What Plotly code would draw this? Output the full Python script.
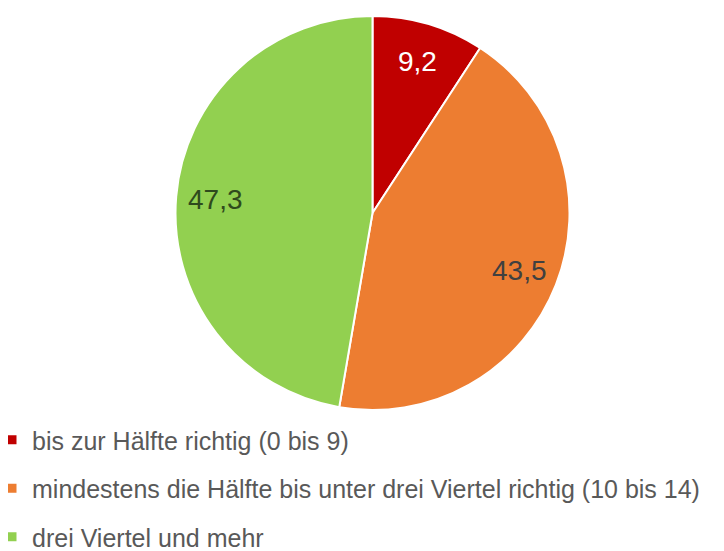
import math
import plotly.graph_objects as go

categories = [
    "bis zur Hälfte richtig (0 bis 9)",
    "mindestens die Hälfte bis unter drei Viertel richtig (10 bis 14)",
    "drei Viertel und mehr",
]
values = [9.2, 43.5, 47.3]
value_labels = ["9,2", "43,5", "47,3"]
colors = ["#C00000", "#ED7D31", "#92D050"]
label_colors = ["#FFFFFF", "#404040", "#2F4A1D"]

# page body has an 8px margin, so the figure is laid out in shifted coordinates
OFF = 8
W, H = 724 - OFF, 551 - OFF
cx, cy, r = 372.5 - OFF, 213 - OFF, 197
label_frac = 0.8

fig = go.Figure()
fig.add_trace(go.Pie(
    labels=categories,
    values=values,
    textinfo="none",
    marker=dict(colors=colors, line=dict(color="white", width=2)),
    sort=False,
    direction="clockwise",
    rotation=0,
    showlegend=False,
    domain=dict(x=[(cx - r) / W, (cx + r) / W], y=[1 - (cy + r) / H, 1 - (cy - r) / H]),
))

# data labels placed at each slice's mid-angle (clockwise from 12 o'clock)
total = sum(values)
cum = 0.0
for v, txt, col in zip(values, value_labels, label_colors):
    mid = (cum + v / 2) / total * 2 * math.pi
    cum += v
    px = cx + label_frac * r * math.sin(mid)
    py = cy - label_frac * r * math.cos(mid)
    fig.add_annotation(
        x=px / W, y=1 - py / H, xref="paper", yref="paper",
        text=txt, showarrow=False, xanchor="center", yanchor="middle",
        font=dict(family="Liberation Sans, Arial", size=28, color=col),
    )

for i, (cat, col) in enumerate(zip(categories, colors)):
    fig.add_trace(go.Scatter(
        x=[None], y=[None], mode="markers", name=cat,
        marker=dict(symbol="square", size=9, color=col),
        legendgroup=f"g{i}", showlegend=True,
    ))

fig.update_layout(
    width=W, height=H,
    margin=dict(l=0, r=0, t=0, b=0, autoexpand=False),
    paper_bgcolor="white", plot_bgcolor="white",
    xaxis=dict(visible=False), yaxis=dict(visible=False),
    legend=dict(
        x=-16 / W, y=1 - 409 / H, xanchor="left", yanchor="top",
        font=dict(family="Liberation Sans, Arial", size=25, color="#595959"),
        tracegroupgap=13, bgcolor="rgba(0,0,0,0)",
    ),
)

fig.write_html("out.html")
